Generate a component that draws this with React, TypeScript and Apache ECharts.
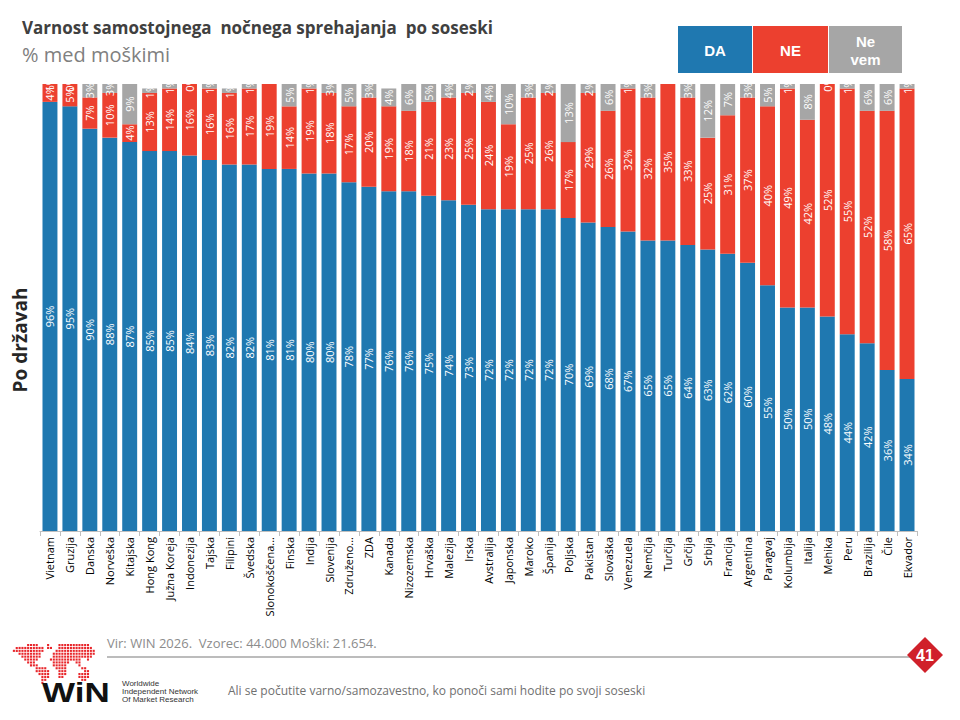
import React, { useEffect, useRef } from "react";
import * as echarts from "echarts";

const categories = [
  "Vietnam", "Gruzija", "Danska", "Norveška", "Kitajska", "Hong Kong", "Južna Koreja", "Indonezija",
  "Tajska", "Filipini", "Švedska", "Slonokoščena...", "Finska", "Indija", "Slovenija", "Združeno...",
  "ZDA", "Kanada", "Nizozemska", "Hrvaška", "Malezija", "Irska", "Avstralija", "Japonska",
  "Maroko", "Španija", "Poljska", "Pakistan", "Slovaška", "Venezuela", "Nemčija", "Turčija",
  "Grčija", "Srbija", "Francija", "Argentina", "Paragvaj", "Kolumbija", "Italija", "Mehika",
  "Peru", "Brazilija", "Čile", "Ekvador",
];

const daValues = [
  96, 95, 90, 88, 87, 85, 85, 84, 83, 82, 82, 81, 81, 80, 80, 78,
  77, 76, 76, 75, 74, 73, 72, 72, 72, 72, 70, 69, 68, 67, 65, 65,
  64, 63, 62, 60, 55, 50, 50, 48, 44, 42, 36, 34,
];

const neValues = [
  4, 5, 7, 10, 4, 13, 14, 16, 16, 16, 17, 19, 14, 19, 18, 17,
  20, 19, 18, 21, 23, 25, 24, 19, 25, 26, 17, 29, 26, 32, 32, 35,
  33, 25, 31, 37, 40, 49, 42, 52, 55, 52, 58, 65,
];

const nevemValues: (number | null)[] = [
  1, 0, 3, 3, 9, 1, 1, 0, 1, 1, 1, null, 5, 1, 3, 5,
  3, 4, 6, 5, 4, 2, 4, 10, 3, 2, 13, 2, 6, 1, 3, null,
  3, 12, 7, 3, 5, 1, 8, 0, 1, 6, 6, 1,
];

const legendNames = ["DA", "NE", "Ne\nvem"];
const colors = ["#1f78b0", "#ec402f", "#a6a6a6"];

const mapRows = [
  "      ####   #   ###########   ",
  "  ########## ##  ############  ",
  " ###########    ############## ",
  "   ########    ############### ",
  "    #######    ##############  ",
  "     #####    ###########  #   ",
  "      ###      ######  ##      ",
  "       ###     #####    #      ",
  "         ####   ####     ##    ",
  "         #####   ###      ##   ",
  "          ####   ###    ####   ",
  "           ###   ##     ####   ",
  "           ##            ##    ",
  "           #                   ",
];

function App() {
  const ref = useRef<HTMLDivElement>(null);
  useEffect(() => {
    if (!ref.current) return;
    const chart = echarts.init(ref.current, null, { renderer: "svg" });

    const labelStyle = {
      show: true,
      position: "inside" as const,
      rotate: 90,
      color: "#ffffff",
      fontSize: 11,
      fontFamily: "Open Sans, sans-serif",
      formatter: (p: any) => (p.value === null || p.value === undefined ? "" : p.value + "%"),
    };

    const mapDots: any[] = [];
    mapRows.forEach((row, r) => {
      for (let c = 0; c < row.length; c++) {
        if (row[c] === "#") {
          mapDots.push({
            type: "rect",
            shape: { x: 10 + c * 2.85, y: 644 + r * 2.9, width: 2.1, height: 2.1 },
            style: { fill: "#e8262b" },
          });
        }
      }
    });

    const legendGraphics: any[] = [];
    const boxX = [678, 753, 829];
    const boxW = [74, 75, 73];
    legendNames.forEach((n, i) => {
      legendGraphics.push({
        type: "rect",
        shape: { x: boxX[i], y: 26, width: boxW[i], height: 47 },
        style: { fill: colors[i] },
      });
      legendGraphics.push({
        type: "text",
        x: boxX[i] + boxW[i] / 2,
        y: 50,
        style: {
          text: n,
          fill: "#ffffff",
          font: "bold 15px 'Liberation Sans', Arial, sans-serif",
          align: "center",
          verticalAlign: "middle",
          lineHeight: 18,
        },
      });
    });

    chart.setOption({
      animation: false,
      grid: { left: 40, right: 43, top: 84, bottom: 189, containLabel: false },
      xAxis: {
        type: "category",
        data: categories,
        axisLine: { lineStyle: { color: "#bfbfbf" } },
        axisTick: { show: true, lineStyle: { color: "#bfbfbf" }, length: 5 },
        axisLabel: {
          interval: 0,
          rotate: 90,
          color: "#000000",
          fontSize: 11,
          fontFamily: "Open Sans, sans-serif",
          margin: 6,
        },
      },
      yAxis: {
        type: "value",
        min: 0,
        max: 100,
        show: false,
        splitLine: { show: false },
      },
      series: [
        {
          name: "DA", type: "bar", stack: "s", data: daValues, barCategoryGap: "25%",
          itemStyle: { color: colors[0] }, label: labelStyle,
        },
        {
          name: "NE", type: "bar", stack: "s", data: neValues,
          itemStyle: { color: colors[1] }, label: labelStyle,
        },
        {
          name: "Ne vem", type: "bar", stack: "s", data: nevemValues,
          itemStyle: { color: colors[2] }, label: labelStyle,
        },
      ],
      graphic: [
        {
          type: "rect", z: 100,
          shape: { x: 38, y: 75, width: 882, height: 9 },
          style: { fill: "#ffffff" },
        },
        {
          type: "text", x: 22, y: 27,
          style: {
            text: "Varnost samostojnega  nočnega sprehajanja  po soseski",
            fill: "#404040",
            font: "bold 17px 'Open Sans', sans-serif",
            verticalAlign: "middle",
          },
        },
        {
          type: "text", x: 22, y: 54,
          style: {
            text: "% med moškimi",
            fill: "#808080",
            font: "20px 'Open Sans', sans-serif",
            verticalAlign: "middle",
          },
        },
        ...legendGraphics,
        {
          type: "text", x: 20, y: 340, rotation: Math.PI / 2,
          style: {
            text: "Po državah",
            fill: "#262626",
            font: "bold 19px 'Open Sans', sans-serif",
            align: "center",
            verticalAlign: "middle",
          },
        },
        {
          type: "text", x: 107, y: 643,
          style: {
            text: "Vir: WIN 2026.  Vzorec: 44.000 Moški: 21.654.",
            fill: "#8c8c8c",
            font: "13px 'Open Sans', sans-serif",
            verticalAlign: "middle",
          },
        },
        {
          type: "line",
          shape: { x1: 107, y1: 657, x2: 910, y2: 657 },
          style: { stroke: "#a6a6a6", lineWidth: 1.5 },
        },
        {
          type: "polygon",
          shape: { points: [[925, 637], [943, 655], [925, 673], [907, 655]] },
          style: { fill: "#d0202a" },
        },
        {
          type: "text", x: 925, y: 655,
          style: {
            text: "41",
            fill: "#ffffff",
            font: "bold 16px 'Liberation Sans', Arial, sans-serif",
            align: "center",
            verticalAlign: "middle",
          },
        },
        {
          type: "text", x: 228, y: 690,
          style: {
            text: "Ali se počutite varno/samozavestno, ko ponoči sami hodite po svoji soseski",
            fill: "#707070",
            font: "12px 'Open Sans', sans-serif",
            verticalAlign: "middle",
          },
        },
        ...mapDots,
        {
          type: "text", x: 42, y: 692, scaleX: 1.25, originX: 0, originY: 0,
          style: {
            text: "WiN",
            fill: "#111111",
            font: "bold 28px 'Liberation Sans', Arial, sans-serif",
            verticalAlign: "middle",
          },
        },
        {
          type: "text", x: 122, y: 691,
          style: {
            text: "Worldwide\nIndependent Network\nOf Market Research",
            fill: "#333333",
            font: "8px 'Liberation Sans', Arial, sans-serif",
            verticalAlign: "middle",
            lineHeight: 8,
          },
        },
      ],
    });
    return () => chart.dispose();
  }, []);
  return (
    <div
      ref={ref}
      style={{ position: "absolute", left: 0, top: 0, width: 960, height: 720 }}
    />
  );
}

export default App;
